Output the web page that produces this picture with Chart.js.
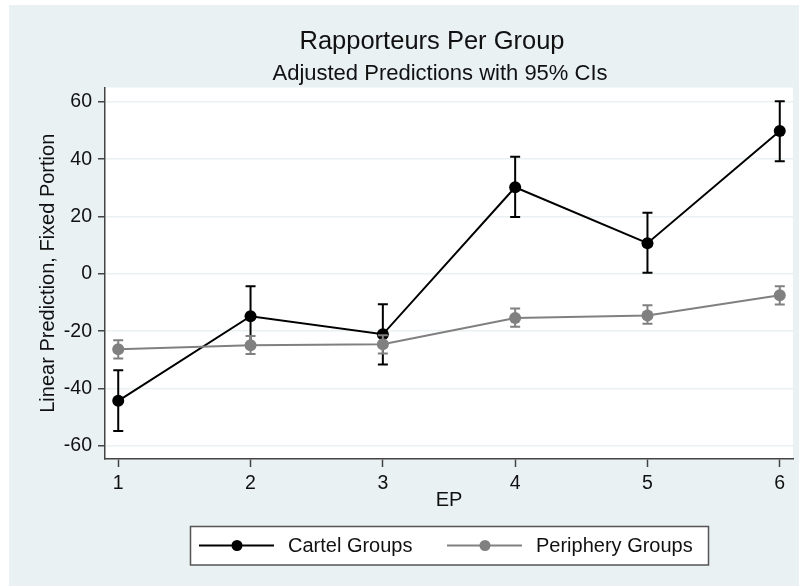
<!DOCTYPE html>
<html lang="en">
<head>
<meta charset="UTF-8">
<title>Rapporteurs Per Group</title>
<style>
    html, body { margin: 0; padding: 0; background: #fff; }
    canvas { display: block; }
</style>
</head>
<body>
<canvas id="grafico" width="801" height="586"></canvas>

<script src="https://cdn.jsdelivr.net/npm/chart.js"></script>
<script>
    // dados
    const eps = [1, 2, 3, 4, 5, 6];
    const cartel = [-44.3, -14.8, -21.1, 30.2, 10.7, 49.8];
    const cartelLo = [-54.8, -25.3, -31.6, 19.8, 0.4, 39.3];
    const cartelHi = [-33.6, -4.3, -10.6, 40.8, 21.3, 60.2];
    const periferia = [-26.3, -24.9, -24.6, -15.4, -14.5, -7.5];
    const periferiaLo = [-29.5, -28.0, -27.8, -18.5, -17.4, -10.7];
    const periferiaHi = [-23.2, -21.7, -21.4, -12.1, -11.0, -4.3];
    const yTicks = [-60, -40, -20, 0, 20, 40, 60];
    const xTicks = [1, 2, 3, 4, 5, 6];

    const titulo = 'Rapporteurs Per Group';
    const subtitulo = 'Adjusted Predictions with 95% CIs';

    const FONTE = "'Liberation Sans', Arial, sans-serif";
    const FUNDO = '#e9f1f3';
    const EIXO = '#444';

    Chart.defaults.font.family = FONTE;
    Chart.defaults.color = '#111';

    // fundo cinza-azulado e area do grafico branca
    const pluginFundo = {
        id: 'fundo',
        beforeDraw(chart) {
            const ctx = chart.ctx;
            const a = chart.chartArea;
            ctx.save();
            ctx.fillStyle = '#fff';
            ctx.fillRect(0, 0, chart.width, chart.height);
            ctx.fillStyle = FUNDO;
            ctx.fillRect(9, 5, 790, chart.height - 5);
            ctx.fillStyle = '#fff';
            ctx.fillRect(a.left, a.top, a.right - a.left, a.bottom - a.top);
            ctx.restore();
        }
    };

    // intervalos de confianca, desenhados antes de cada serie
    const pluginIC = {
        id: 'ic',
        beforeDatasetDraw(chart, args) {
            const ds = chart.data.datasets[args.index];
            const x = chart.scales.x;
            const y = chart.scales.y;
            const ctx = chart.ctx;
            ctx.save();
            ctx.strokeStyle = ds.borderColor;
            ctx.lineWidth = 2;
            for (let i = 0; i < eps.length; i++) {
                const px = x.getPixelForValue(eps[i]);
                const p1 = y.getPixelForValue(ds.icLo[i]);
                const p2 = y.getPixelForValue(ds.icHi[i]);
                ctx.beginPath();
                ctx.moveTo(px, p1);
                ctx.lineTo(px, p2);
                ctx.moveTo(px - 5, p1);
                ctx.lineTo(px + 5, p1);
                ctx.moveTo(px - 5, p2);
                ctx.lineTo(px + 5, p2);
                ctx.stroke();
            }
            ctx.restore();
        }
    };

    // titulos e legenda
    const pluginTextos = {
        id: 'textos',
        afterDraw(chart) {
            const ctx = chart.ctx;
            ctx.save();
            ctx.fillStyle = '#111';
            ctx.textAlign = 'center';
            ctx.textBaseline = 'alphabetic';
            ctx.font = `25.5px ${FONTE}`;
            ctx.fillText(titulo, 432, 49);
            ctx.font = `22px ${FONTE}`;
            ctx.fillText(subtitulo, 440, 79.5);

            // caixa da legenda
            ctx.fillStyle = '#fff';
            ctx.fillRect(190, 526, 518, 39);
            ctx.strokeStyle = '#555';
            ctx.lineWidth = 1.5;
            ctx.strokeRect(190.5, 526.5, 518, 38.5);

            const inicio = [199, 447];
            const yLeg = 545.5;
            ctx.font = `20px ${FONTE}`;
            ctx.textAlign = 'left';
            ctx.textBaseline = 'middle';
            chart.data.datasets.slice().sort((a, b) => b.order - a.order).forEach(function (ds, i) {
                const x0 = inicio[i];
                ctx.strokeStyle = ds.borderColor;
                ctx.lineWidth = 2;
                ctx.beginPath();
                ctx.moveTo(x0, yLeg);
                ctx.lineTo(x0 + 75, yLeg);
                ctx.stroke();
                ctx.fillStyle = ds.backgroundColor;
                ctx.beginPath();
                ctx.arc(x0 + 38, yLeg, 5.5, 0, Math.PI * 2);
                ctx.fill();
                ctx.fillStyle = '#111';
                ctx.fillText(ds.label, x0 + 89, yLeg + 1);
            });
            ctx.restore();
        }
    };

    const grafico = new Chart(document.getElementById('grafico'), {
        type: 'scatter',
        data: {
            datasets: [{
                label: 'Cartel Groups',
                data: eps.map((v, i) => ({ x: v, y: cartel[i] })),
                icLo: cartelLo,
                icHi: cartelHi,
                borderColor: '#000',
                backgroundColor: '#000',
                borderWidth: 2,
                pointRadius: 6,
                pointBorderWidth: 0,
                showLine: true,
                order: 2
            }, {
                label: 'Periphery Groups',
                data: eps.map((v, i) => ({ x: v, y: periferia[i] })),
                icLo: periferiaLo,
                icHi: periferiaHi,
                borderColor: '#808080',
                backgroundColor: '#808080',
                borderWidth: 2,
                pointRadius: 6,
                pointBorderWidth: 0,
                showLine: true,
                order: 1
            }]
        },
        options: {
            responsive: false,
            animation: false,
            layout: {
                padding: { top: 87.5, right: 8, bottom: 67, left: 0 }
            },
            scales: {
                x: {
                    type: 'linear',
                    min: 0.9,
                    max: 6.1,
                    afterFit(scale) { scale.height = 60; },
                    afterBuildTicks(scale) { scale.ticks = xTicks.map(v => ({ value: v })); },
                    grid: { drawOnChartArea: false, tickLength: 8, tickColor: EIXO, tickWidth: 1.5 },
                    border: { color: EIXO, width: 1.5 },
                    ticks: { font: { size: 19.5 }, padding: 5, color: '#111' },
                    title: { display: true, text: 'EP', font: { size: 20 }, padding: { bottom: 7 }, color: '#111' }
                },
                y: {
                    min: -64.6,
                    max: 65,
                    afterFit(scale) { scale.width = 105; },
                    afterBuildTicks(scale) { scale.ticks = yTicks.map(v => ({ value: v })); },
                    grid: { color: FUNDO, lineWidth: 1.5, tickLength: 7, tickColor: EIXO, tickWidth: 1.5 },
                    border: { color: EIXO, width: 1.5 },
                    ticks: { font: { size: 19.5 }, padding: 6, color: '#111' },
                    title: {
                        display: true,
                        text: 'Linear Prediction, Fixed Portion',
                        font: { size: 20 },
                        padding: { top: 36 },
                        color: '#111'
                    }
                }
            },
            plugins: {
                legend: { display: false },
                tooltip: { enabled: false }
            }
        },
        plugins: [pluginFundo, pluginIC, pluginTextos]
    });
</script>
</body>
</html>
